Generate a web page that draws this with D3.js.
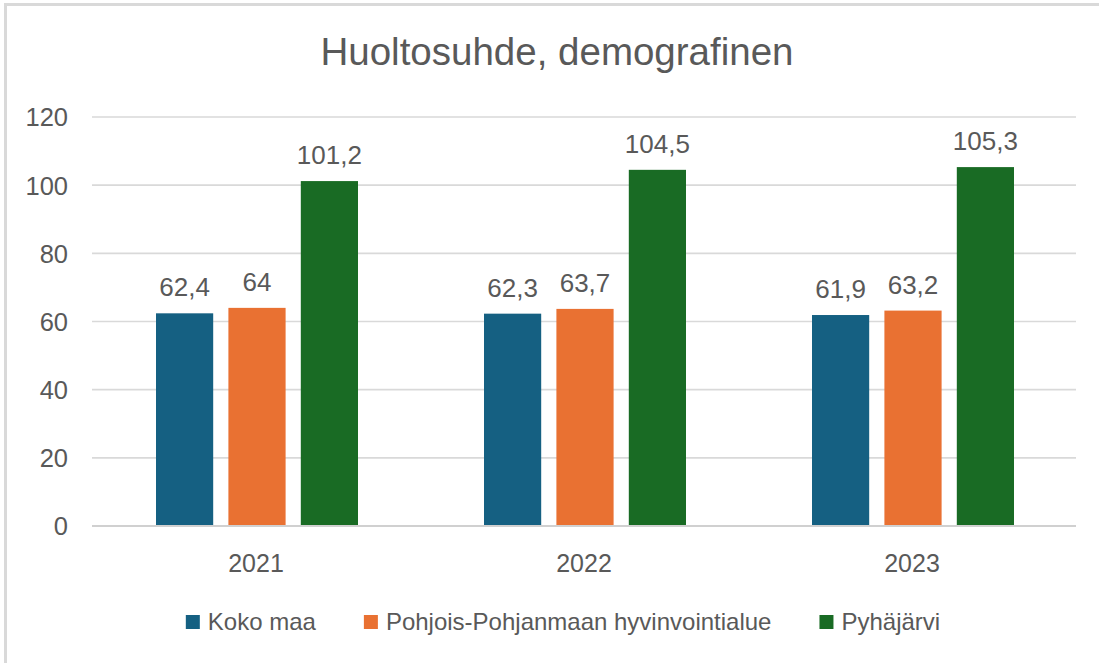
<!DOCTYPE html>
<html><head><meta charset="utf-8">
<script src="https://cdn.jsdelivr.net/npm/d3@7"></script>
<style>
html,body{margin:0;padding:0;background:#fff;}
svg{display:block;font-family:"Liberation Sans",Arial,sans-serif;}
</style></head>
<body>
<svg id="chart" width="1099" height="663"></svg>
<script>
const title = "Huoltosuhde, demografinen";
const years = ["2021","2022","2023"];
const seriesNames = ["Koko maa","Pohjois-Pohjanmaan hyvinvointialue","Pyhäjärvi"];
const kokoMaa = [62.4, 62.3, 61.9];
const pohjoisPohjanmaa = [64, 63.7, 63.2];
const pyhajarvi = [101.2, 104.5, 105.3];
const yTicks = [0,20,40,60,80,100,120];
const colors = ["#156082","#E97132","#196B24"];

const seriesValues = [kokoMaa, pohjoisPohjanmaa, pyhajarvi];
const svg = d3.select("#chart");
const txt = "#595959";
const grid = "#d9d9d9";

// frame
svg.append("rect").attr("x",5.5).attr("y",4.5).attr("width",1300).attr("height",1000)
  .attr("fill","none").attr("stroke","#d9d9d9").attr("stroke-width",3);

const x0 = d3.scaleBand().domain(years).range([92,1076]);
const x1 = d3.scaleBand().domain(seriesNames).range([64,266]).paddingInner(0.21);
const y = d3.scaleLinear().domain([0,120]).range([526,117]);

// gridlines
svg.append("g").selectAll("line").data(yTicks).join("line")
  .attr("x1",92).attr("x2",1076)
  .attr("y1",d=>y(d)).attr("y2",d=>y(d))
  .attr("stroke",grid).attr("stroke-width",1.6);

// y axis
const yAxis = svg.append("g").attr("transform","translate(68,0)")
  .call(d3.axisLeft(y).tickValues(yTicks).tickSize(0).tickPadding(0));
yAxis.select(".domain").remove();
yAxis.selectAll("text").attr("fill",txt).style("font-size","25.5px")
  .style("font-family","Liberation Sans, Arial, sans-serif").attr("dy","0.35em");

// bars
const groups = svg.append("g").selectAll("g").data(years).join("g")
  .attr("transform",d=>`translate(${x0(d)},0)`);
groups.each(function(yr, i){
  const g = d3.select(this);
  seriesNames.forEach((s, j) => {
    const v = seriesValues[j][i];
    g.append("rect").attr("x",x1(s)).attr("width",x1.bandwidth())
      .attr("y",y(v)).attr("height",y(0)-y(v)).attr("fill",colors[j]);
    g.append("text").attr("x",x1(s)+x1.bandwidth()/2).attr("y",y(v)-17)
      .attr("text-anchor","middle").attr("fill",txt).style("font-size","26px")
      .text(String(v).replace(".",","));
  });
});

// baseline
svg.append("line").attr("x1",92).attr("x2",1076).attr("y1",y(0)).attr("y2",y(0))
  .attr("stroke","#d0d0d0").attr("stroke-width",2);

// x axis labels
const xAxis = svg.append("g").attr("transform",`translate(0,${y(0)})`)
  .call(d3.axisBottom(x0).tickSize(0).tickPadding(0));
xAxis.select(".domain").remove();
xAxis.selectAll("text").attr("fill",txt).style("font-size","25px")
  .style("font-family","Liberation Sans, Arial, sans-serif").attr("y",37).attr("dy","0.35em");

// title
svg.append("text").attr("x",557).attr("y",52).attr("dy","0.35em")
  .attr("text-anchor","middle").attr("fill",txt).style("font-size","38.5px").text(title);

// legend
const leg = svg.append("g");
const items = seriesNames.map((s,j)=>{
  const g = leg.append("g");
  g.append("rect").attr("x",0).attr("y",-7).attr("width",14).attr("height",14).attr("fill",colors[j]);
  const t = g.append("text").attr("x",22).attr("y",0).attr("dy","0.35em").attr("fill",txt)
    .style("font-size","24px").text(s);
  return {g, w: 22 + t.node().getComputedTextLength()};
});
const gap = 48;
const total = d3.sum(items, d=>d.w) + gap*(items.length-1);
let cx = 563 - total/2;
items.forEach(it=>{ it.g.attr("transform",`translate(${cx},622)`); cx += it.w + gap; });
</script>
</body></html>
